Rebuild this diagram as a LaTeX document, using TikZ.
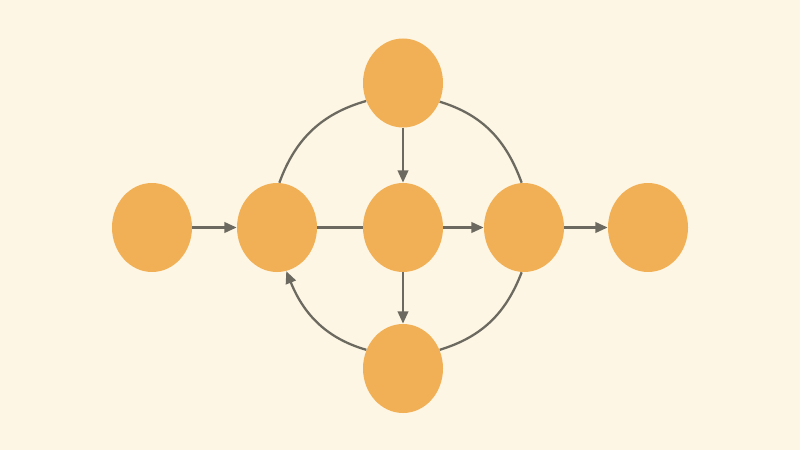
\documentclass[tikz,border=0pt]{standalone}
\usetikzlibrary{arrows.meta,shapes.geometric}
\definecolor{bgcream}{RGB}{253,246,228}
\definecolor{nodeorange}{RGB}{242,176,86}
\definecolor{edgegray}{RGB}{108,106,96}
\begin{document}
\begin{tikzpicture}[
        vertex/.style={ellipse, fill=nodeorange, minimum width=1.6cm, minimum height=1.78cm, inner sep=0pt},
        link/.style={draw=edgegray, line width=1.3pt},
        arrow/.style={link, -{Triangle[length=7pt, width=6pt]}}]
    \fill[bgcream] (0, 0) rectangle (16, 9);
    \useasboundingbox (0, 0) rectangle (16, 9);
        \node[vertex] (in) at (3.04, 4.45){};
        \node[vertex] (left) at (5.54, 4.45){};
        \node[vertex] (mid) at (8.06, 4.45){};
        \node[vertex] (right) at (10.48, 4.45){};
        \node[vertex] (out) at (12.96, 4.45){};
        \node[vertex] (top) at (8.06, 7.34){};
        \node[vertex] (bottom) at (8.06, 1.63){};
    \draw[arrow] (in) to (left);
    \draw[link] (left) to (mid);
    \draw[arrow] (mid) to (right);
    \draw[arrow] (right) to (out);
    \draw[arrow] (top) to (mid);
    \draw[arrow] (mid) to (bottom);
    \draw[link] (left.87) to[out=70, in=196] (top.206);
    \draw[link] (top.-27) to[out=-17, in=110] (right.93);
    \draw[link] (right.-93) to[out=-111, in=17] (bottom.27);
    \draw[arrow] (bottom.153) to[out=164, in=-68] (left.-78);
\end{tikzpicture}
\end{document}
